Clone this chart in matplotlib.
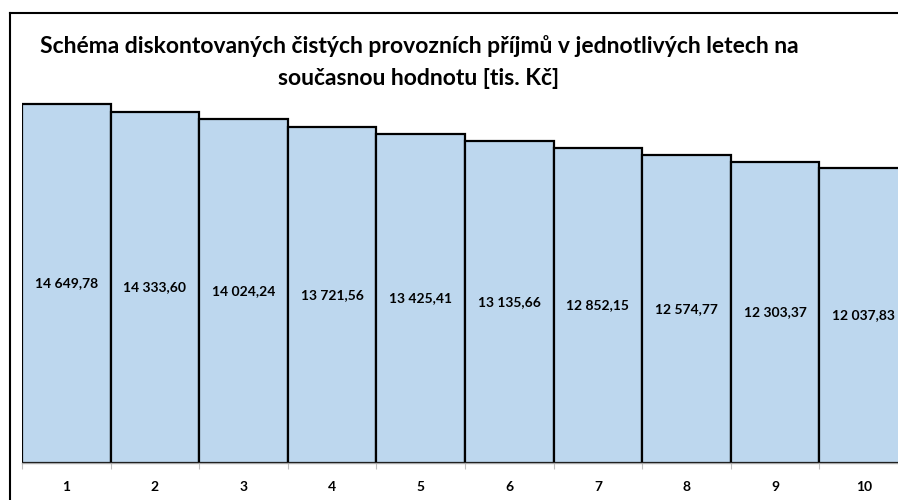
import matplotlib.pyplot as plt
from matplotlib.lines import Line2D

# roky a diskontované příjmy [tis. Kč]
roky = [1, 2, 3, 4, 5, 6, 7, 8, 9, 10]
prijmy = [14649.78, 14333.60, 14024.24, 13721.56, 13425.41,
          13135.66, 12852.15, 12574.77, 12303.37, 12037.83]

nazev = ('Schéma diskontovaných čistých provozních příjmů v jednotlivých letech na\n'
         'současnou hodnotu [tis. Kč]')


def cz(v):
    s = '{:,.2f}'.format(v)
    return s.replace(',', ' ').replace('.', ',')


plt.rcParams['font.family'] = ['Lato', 'DejaVu Sans']

fig = plt.figure(figsize=(8.98, 5.0), dpi=100)
# osa končí na okraji obrázku, poslední sloupec je oříznutý
ax = fig.add_axes([22 / 898, 37 / 500, 876 / 898, 392 / 500])

bars = ax.bar(roky, prijmy, width=1.0, color='#bdd7ee', edgecolor='black',
              linewidth=1.6)
for b, v in zip(bars, prijmy):
    ax.text(b.get_x() + b.get_width() / 2, v / 2, cz(v), ha='center',
            va='center', fontsize=10, fontweight='bold')

ax.set_xlim(0.5, 0.5 + 876 / 88.6)
ax.set_ylim(0, 16000)
ax.set_yticks([])
ax.set_xticks([x + 0.5 for x in range(0, 10)], minor=False)
ax.set_xticklabels([])
ax.set_xticks(roky, minor=True)
ax.set_xticklabels([str(r) for r in roky], minor=True, fontsize=10,
                   fontweight='bold')
ax.tick_params(axis='x', which='major', length=4, color='#bfbfbf')
ax.tick_params(axis='x', which='minor', length=0, pad=13)
for s in ['top', 'right', 'left']:
    ax.spines[s].set_visible(False)
ax.spines['bottom'].set_color('#a6a6a6')
ax.spines['bottom'].set_linewidth(1.0)

fig.text(419 / 898, 1 - 62 / 500, nazev, ha='center', va='center',
         fontsize=16.5, fontweight='bold', linespacing=1.7)

# rámeček grafu (levá a horní strana)
x0 = 9.5 / 898
y0 = 1 - 12.5 / 500
fig.lines.append(Line2D([x0, x0], [0, y0], transform=fig.transFigure,
                        color='black', linewidth=1.5))
fig.lines.append(Line2D([x0, 1.0], [y0, y0], transform=fig.transFigure,
                        color='black', linewidth=1.5))

fig.savefig('out.png', dpi=100)
